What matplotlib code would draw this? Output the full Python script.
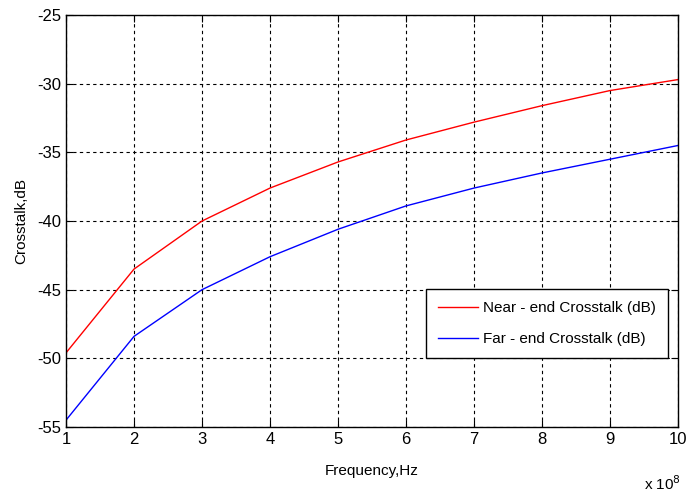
import numpy as np
import matplotlib.pyplot as plt
from matplotlib import font_manager

freq = [1, 2, 3, 4, 5, 6, 7, 8, 9, 10]  # x 10^8 Hz
near_end = [-49.6, -43.5, -40.0, -37.6, -35.7, -34.1, -32.8, -31.6, -30.5, -29.7]
far_end = [-54.5, -48.4, -45.0, -42.6, -40.6, -38.9, -37.6, -36.5, -35.5, -34.5]

names = {f.name for f in font_manager.fontManager.ttflist}
fam = 'Liberation Sans Narrow' if 'Liberation Sans Narrow' in names else 'Liberation Sans'
plt.rcParams['font.family'] = [fam, 'DejaVu Sans']
plt.rcParams['axes.unicode_minus'] = False

fig = plt.figure(figsize=(6.92, 4.94), dpi=100)
ax = fig.add_axes([0.0954, 0.1356, 0.8844, 0.834])

ax.plot(freq, near_end, color='#ff0000', lw=1.0, label='Near - end Crosstalk (dB)')
ax.plot(freq, far_end, color='#0000ff', lw=1.0, label='Far - end Crosstalk (dB)')

ax.set_xlim(1, 10)
ax.set_ylim(-55, -25)
ax.set_xticks(np.arange(1, 11))
ax.set_yticks(np.arange(-55, -24, 5))
ax.grid(True, color='black', linestyle=(0, (3, 3)), linewidth=0.8)
ax.tick_params(direction='in', top=True, right=True, labelsize=12, length=5)
for s in ax.spines.values():
    s.set_linewidth(1.0)

ax.set_xlabel('Frequency,Hz', fontsize=11, labelpad=12)
ax.set_ylabel('Crosstalk,dB', fontsize=11, labelpad=6)
ax.text(0.945, -0.115, r'x 10$^{8}$', transform=ax.transAxes, fontsize=11, ha='left', va='top')

leg = ax.legend(loc='lower right', bbox_to_anchor=(0.984, 0.167), fontsize=11,
                fancybox=False, framealpha=1, edgecolor='black', borderaxespad=0,
                handlelength=2.6, handletextpad=0.35, borderpad=0.8, labelspacing=1.1)
leg.get_frame().set_linewidth(1.0)

fig.savefig('out.png', dpi=100)
